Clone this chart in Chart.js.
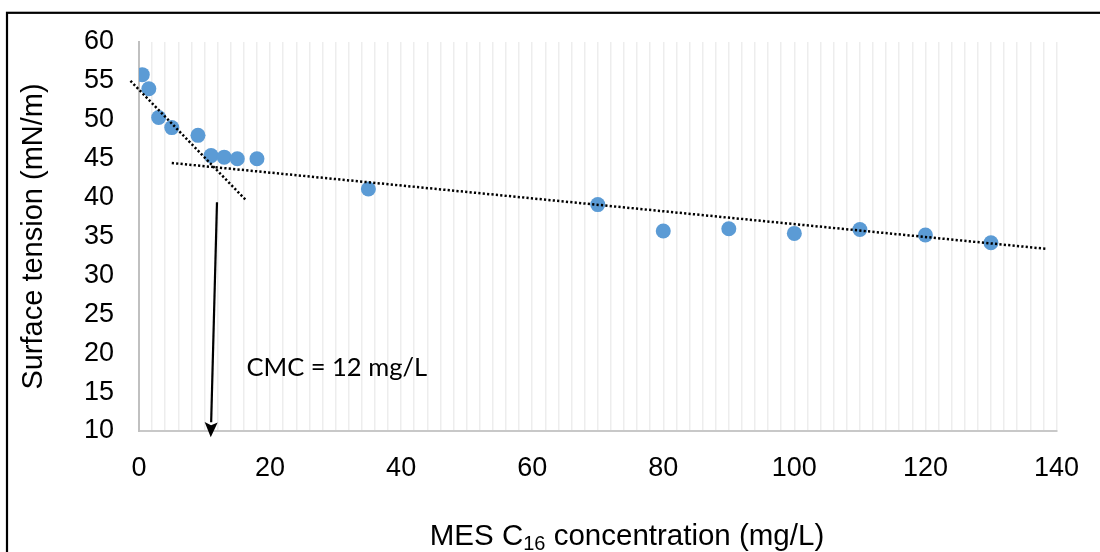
<!DOCTYPE html>
<html>
<head>
<meta charset="utf-8">
<script src="https://cdn.jsdelivr.net/npm/chart.js@4.4.1/dist/chart.umd.min.js"></script>
<style>
  html, body { margin: 0; padding: 0; background: #fff; }
  #wrap { width: 1100px; height: 552px; }
</style>
</head>
<body>
<div id="wrap"><canvas id="tensionChart"></canvas></div>
<script>
// measured surface tension points
const concentration = [0.5, 1.5, 3, 5, 9, 11, 13, 15, 18, 35, 70, 80, 90, 100, 110, 120, 130];
const tension = [55.8, 54.0, 50.3, 49.0, 48.0, 45.4, 45.2, 45.0, 45.0, 41.1, 39.1, 35.7, 36.0, 35.4, 35.9, 35.2, 34.2];

// dotted fit lines, end points
const steepFitX = [-1.3, 16.4];
const steepFitY = [55.0, 39.6];
const flatFitX = [5, 138.6];
const flatFitY = [44.45, 33.4];

// CMC arrow and its label
const arrowX = [11.9, 10.95];
const arrowY = [39.4, 9.2];
const cmcText = 'CMC = 12 mg/L';
const cmcTextAt = [16.4, 18.1];

const yTitle = 'Surface tension (mN/m)';
const xTitleParts = ['MES C', '16', ' concentration (mg/L)'];

function toPoints(xs, ys) {
  return xs.map((v, i) => ({ x: v, y: ys[i] }));
}

const extras = {
  id: 'extras',
  afterDraw(chart) {
    const { ctx, scales: { x, y } } = chart;
    ctx.save();

    // outer frame
    ctx.strokeStyle = '#000';
    ctx.lineWidth = 2.2;
    ctx.strokeRect(7, 12.8, 1300, 1300);

    // arrow
    const x0 = x.getPixelForValue(arrowX[0]), y0 = y.getPixelForValue(arrowY[0]);
    const x1 = x.getPixelForValue(arrowX[1]), y1 = y.getPixelForValue(arrowY[1]);
    const ang = Math.atan2(y1 - y0, x1 - x0);
    const head = 15, half = 6.5;
    const bx = x1 - head * Math.cos(ang), by = y1 - head * Math.sin(ang);
    ctx.lineWidth = 2.2;
    ctx.beginPath();
    ctx.moveTo(x0, y0);
    ctx.lineTo(bx, by);
    ctx.stroke();
    ctx.beginPath();
    ctx.moveTo(x1, y1);
    ctx.lineTo(bx + half * Math.sin(ang), by - half * Math.cos(ang));
    ctx.lineTo(bx + 3 * Math.cos(ang), by + 3 * Math.sin(ang));
    ctx.lineTo(bx - half * Math.sin(ang), by + half * Math.cos(ang));
    ctx.closePath();
    ctx.fillStyle = '#000';
    ctx.fill();

    // CMC label
    ctx.font = '25.5px Lato';
    ctx.textBaseline = 'middle';
    ctx.textAlign = 'left';
    ctx.fillText(cmcText, x.getPixelForValue(cmcTextAt[0]), y.getPixelForValue(cmcTextAt[1]));

    // x title with subscript
    const big = '29.5px "Liberation Sans"', small = '20px "Liberation Sans"';
    ctx.font = big;
    const w0 = ctx.measureText(xTitleParts[0]).width;
    const w2 = ctx.measureText(xTitleParts[2]).width;
    ctx.font = small;
    const w1 = ctx.measureText(xTitleParts[1]).width;
    let tx = 627 - (w0 + w1 + w2) / 2;
    const ty = 537;
    ctx.font = big;
    ctx.fillText(xTitleParts[0], tx, ty);
    tx += w0;
    ctx.font = small;
    ctx.fillText(xTitleParts[1], tx, ty + 7);
    tx += w1;
    ctx.font = big;
    ctx.fillText(xTitleParts[2], tx, ty);

    ctx.restore();
  }
};

new Chart(document.getElementById('tensionChart'), {
  type: 'scatter',
  data: {
    datasets: [
      {
        label: 'Fit 1',
        data: toPoints(steepFitX, steepFitY),
        showLine: true,
        borderColor: '#000',
        borderWidth: 2.5,
        borderDash: [2.2, 2.2],
        pointRadius: 0,
        clip: false,
        order: 0
      },
      {
        label: 'Fit 2',
        data: toPoints(flatFitX, flatFitY),
        showLine: true,
        borderColor: '#000',
        borderWidth: 2.5,
        borderDash: [2.2, 2.2],
        pointRadius: 0,
        clip: false,
        order: 0
      },
      {
        label: 'Surface tension',
        data: toPoints(concentration, tension),
        backgroundColor: '#5b9bd5',
        borderWidth: 0,
        pointRadius: 7.5,
        pointHoverRadius: 7.5,
        order: 1
      }
    ]
  },
  options: {
    responsive: true,
    maintainAspectRatio: false,
    animation: false,
    layout: { padding: { top: 42, right: 42.5, left: 0, bottom: 0 } },
    plugins: {
      legend: { display: false },
      tooltip: { enabled: false }
    },
    scales: {
      x: {
        type: 'linear',
        min: 0,
        max: 140,
        afterFit: (s) => { s.height = 121; },
        ticks: {
          stepSize: 2,
          autoSkip: false,
          maxRotation: 0,
          padding: 21,
          color: '#000',
          font: { family: '"Liberation Sans"', size: 27 },
          callback: (v) => (v % 20 === 0 ? v : '')
        },
        grid: {
          drawTicks: false,
          lineWidth: 1.5,
          color: (c) => (c.tick && c.tick.value === 0 ? 'rgba(0,0,0,0)' : '#ededed')
        },
        border: { display: true, color: '#c8c8c8', width: 2 }
      },
      y: {
        min: 10,
        max: 60,
        afterFit: (s) => { s.width = 139; },
        ticks: {
          stepSize: 5,
          padding: 25,
          color: '#000',
          font: { family: '"Liberation Sans"', size: 27 }
        },
        grid: { display: false, drawTicks: false },
        border: { display: true, color: '#c0c0c0', width: 2 },
        title: {
          display: true,
          text: yTitle,
          color: '#000',
          font: { family: '"Liberation Sans"', size: 29 },
          padding: { top: 17, bottom: 0 }
        }
      }
    }
  },
  plugins: [extras]
});
</script>
</body>
</html>
